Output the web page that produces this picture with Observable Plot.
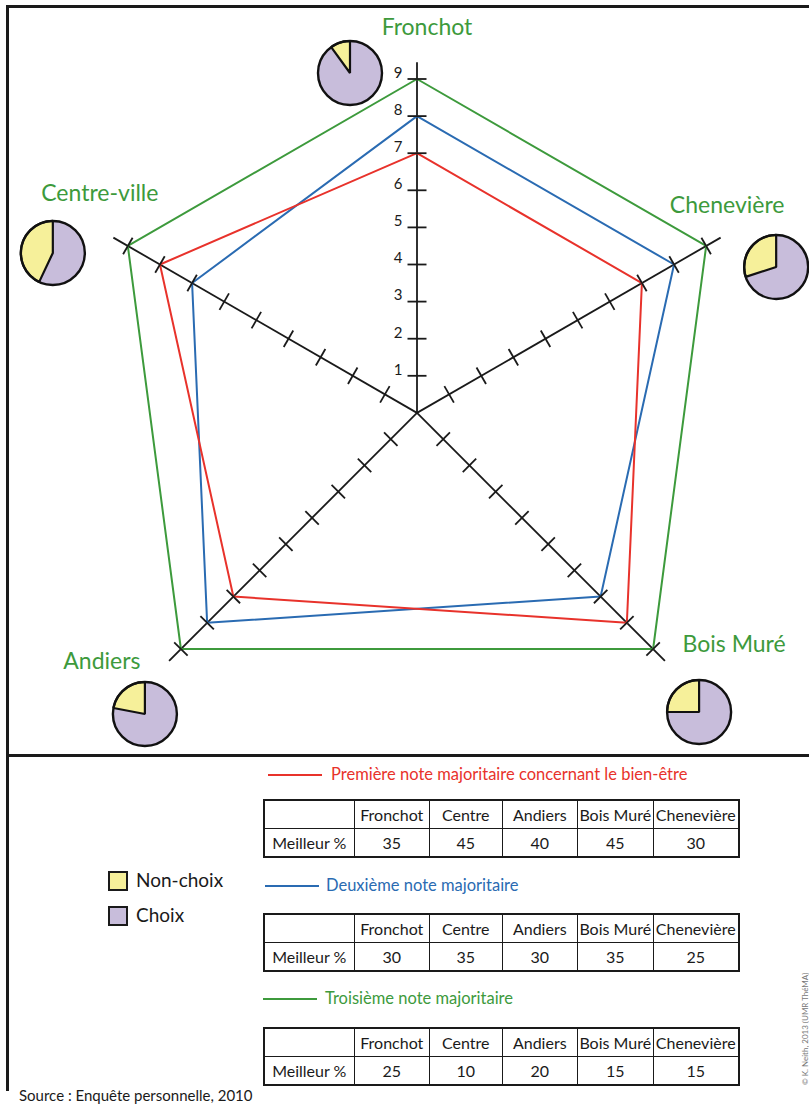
<!DOCTYPE html>
<html><head><meta charset="utf-8">
<script src="https://cdn.jsdelivr.net/npm/d3@7"></script>
<script src="https://cdn.jsdelivr.net/npm/@observablehq/plot@0.6"></script>
<style>
body{margin:0;background:#fff;font-family:Lato,"Open Sans",sans-serif;color:#1a1a1a;}
#wrap{position:relative;width:809px;height:1104px;overflow:hidden;background:#fff;}
#wrap svg{position:absolute;left:0;top:0;}
.rule{position:absolute;background:#1a1a1a;}
.leg{position:absolute;font-size:16.5px;line-height:20px;white-space:nowrap;}
.legline{position:absolute;height:2px;}
table.t{position:absolute;left:263px;table-layout:fixed;border-collapse:collapse;border:2px solid #1a1a1a;font-size:16px;}
table.t td{border:1.5px solid #1a1a1a;height:27px;padding:0;text-align:center;white-space:nowrap;overflow:visible;}
.sq{position:absolute;width:16px;height:16px;border:2px solid #1a1a1a;}
.txt{position:absolute;white-space:nowrap;}
</style></head><body><div id="wrap"></div>
<script>
// ---------- data ----------
const axes = ["Fronchot", "Chenevière", "Bois Muré", "Andiers", "Centre-ville"];
const tickValues = [1, 2, 3, 4, 5, 6, 7, 8, 9];
const premiere = [7, 7, 8, 7, 8];
const deuxieme = [8, 8, 7, 8, 7];
const troisieme = [9, 9, 9, 9, 9];
const nonChoix = [10, 30, 25, 22, 43]; // % of non-choice per site (yellow slice)
const tableColumns = ["Fronchot", "Centre", "Andiers", "Bois Muré", "Chenevière"];
const rowLabel = "Meilleur %";
const meilleur1 = [35, 45, 40, 45, 30];
const meilleur2 = [30, 35, 30, 35, 25];
const meilleur3 = [25, 10, 20, 15, 15];
const seriesNames = ["Première note majoritaire concernant le bien-être", "Deuxième note majoritaire", "Troisième note majoritaire"];
const pieLegend = ["Non-choix", "Choix"];
const sourceText = "Source : Enquête personnelle, 2010";
const creditText = "© K. Neith, 2013 (UMR ThéMA)";

// ---------- layout ----------
const W = 809, H = 755, U = 37.1, CX = 416.5, CY = 412.4;
const axisAngle = [0, 60, 135, 225, 300];
const labelOff = [[10, -51], [21, -40], [81, -4], [-79, 13], [-28, -52]];
const pieOff = [[-67, -6], [70, 21], [46, 63], [-36, 65], [-75, 7]];
const pieR = 32;
const GREEN = "#3d9a3c", BLUE = "#2a6bb2", RED = "#e8322b", YELLOW = "#f6f09a", PURPLE = "#c8bddb";
const rad = a => a * Math.PI / 180;
const pt = (i, v) => [v * Math.sin(rad(axisAngle[i])), v * Math.cos(rad(axisAngle[i]))];

const poly = vals => vals.map((v, i) => ({x: pt(i, v)[0], y: pt(i, v)[1]}));
const axisLines = axes.map((a, i) => ({x1: 0, y1: 0, x2: pt(i, 9.45)[0], y2: pt(i, 9.45)[1]}));
const ticks = [];
const h = 9.5 / U;
axes.forEach((a, i) => tickValues.forEach(v => {
  const [x, y] = pt(i, v), t = rad(axisAngle[i]);
  const px = Math.cos(t), py = -Math.sin(t);
  ticks.push({x1: x - h * px, y1: y - h * py, x2: x + h * px, y2: y + h * py});
}));
const labels = axes.map((a, i) => ({name: a, x: pt(i, 9)[0] + labelOff[i][0] / U, y: pt(i, 9)[1] - labelOff[i][1] / U}));
const pies = axes.map((a, i) => ({name: a, p: nonChoix[i], x: pt(i, 9)[0] + pieOff[i][0] / U, y: pt(i, 9)[1] - pieOff[i][1] / U}));
const wedges = [];
const R = pieR / U;
pies.forEach((p, k) => {
  wedges.push({k, x: p.x, y: p.y});
  const span = p.p / 100 * 2 * Math.PI, n = 40;
  for (let j = 0; j <= n; j++) {
    const th = -span * j / n;
    wedges.push({k, x: p.x + R * Math.sin(th), y: p.y + R * Math.cos(th)});
  }
});

const chart = Plot.plot({
  width: W, height: H, margin: 0,
  x: {domain: [-CX / U, (W - CX) / U], range: [0, W], axis: null},
  y: {domain: [-(H - CY) / U, CY / U], range: [H, 0], axis: null},
  style: {background: "transparent", fontFamily: "Lato, sans-serif"},
  marks: [
    Plot.link(axisLines, {x1: "x1", y1: "y1", x2: "x2", y2: "y2", stroke: "#1a1a1a", strokeWidth: 1.8}),
    Plot.line(poly(troisieme), {x: "x", y: "y", curve: "linear-closed", stroke: GREEN, strokeWidth: 2}),
    Plot.line(poly(deuxieme), {x: "x", y: "y", curve: "linear-closed", stroke: BLUE, strokeWidth: 2}),
    Plot.line(poly(premiere), {x: "x", y: "y", curve: "linear-closed", stroke: RED, strokeWidth: 2}),
    Plot.link(ticks, {x1: "x1", y1: "y1", x2: "x2", y2: "y2", stroke: "#1a1a1a", strokeWidth: 1.8}),
    Plot.text(tickValues, {x: 0, y: d => d, text: d => String(d), dx: -19, dy: -6, fontSize: 15, fill: "#1a1a1a"}),
    Plot.text(labels, {x: "x", y: "y", text: "name", fontSize: 23, fill: GREEN}),
    Plot.dot(pies, {x: "x", y: "y", r: pieR, fill: PURPLE}),
    Plot.line(wedges, {x: "x", y: "y", z: "k", curve: "linear-closed", fill: YELLOW, stroke: "#111", strokeWidth: 2.2, strokeLinejoin: "miter"}),
    Plot.dot(pies, {x: "x", y: "y", r: pieR, fill: "none", stroke: "#111", strokeWidth: 2.4})
  ]
});

const wrap = document.getElementById("wrap");
wrap.appendChild(chart);

function el(tag, cls, style, text) {
  const e = document.createElement(tag);
  if (cls) e.className = cls;
  Object.assign(e.style, style || {});
  if (text != null) e.textContent = text;
  wrap.appendChild(e);
  return e;
}
// frame
el("div", "rule", {left: "6px", top: "5px", width: "803px", height: "2.5px"});
el("div", "rule", {left: "6px", top: "5px", width: "2.5px", height: "1086px"});
el("div", "rule", {left: "6px", top: "754px", width: "803px", height: "2.5px"});

// series legends + tables
const legTops = [775, 886, 999];
const legColors = [RED, BLUE, GREEN];
const legLine = [[268, 54], [265, 54], [263, 54]];
const legTextX = [331, 326, 325];
const tableTops = [799, 913, 1027];
const tableVals = [meilleur1, meilleur2, meilleur3];
const colW = [90, 76, 73, 76, 76, 86];
seriesNames.forEach((name, s) => {
  el("div", "legline", {left: legLine[s][0] + "px", width: legLine[s][1] + "px", top: (legTops[s] - 1) + "px", background: legColors[s]});
  el("div", "leg", {left: legTextX[s] + "px", top: (legTops[s] - 11) + "px", color: legColors[s]}, name);
  const t = el("table", "t", {top: tableTops[s] + "px"});
  const r1 = t.insertRow(), r2 = t.insertRow();
  const c0 = r1.insertCell(); c0.style.width = (colW[0] - 1.5) + "px";
  tableColumns.forEach((c, j) => { const td = r1.insertCell(); td.textContent = c; td.style.width = (colW[j + 1] - 1.5) + "px"; });
  r2.insertCell().textContent = rowLabel;
  tableVals[s].forEach(v => { r2.insertCell().textContent = v; });
});

// pie legend
el("div", "sq", {left: "108px", top: "871px", background: YELLOW});
el("div", "txt", {left: "136px", top: "868px", fontSize: "19px"}, pieLegend[0]);
el("div", "sq", {left: "108px", top: "906px", background: PURPLE});
el("div", "txt", {left: "136px", top: "903px", fontSize: "19px"}, pieLegend[1]);

// source and credit
el("div", "txt", {left: "19px", top: "1086px", fontSize: "15px"}, sourceText);
el("div", "txt", {left: "800px", top: "1085px", fontSize: "8px", color: "#777", transform: "rotate(-90deg)", transformOrigin: "0 0"}, creditText);
</script></body></html>
